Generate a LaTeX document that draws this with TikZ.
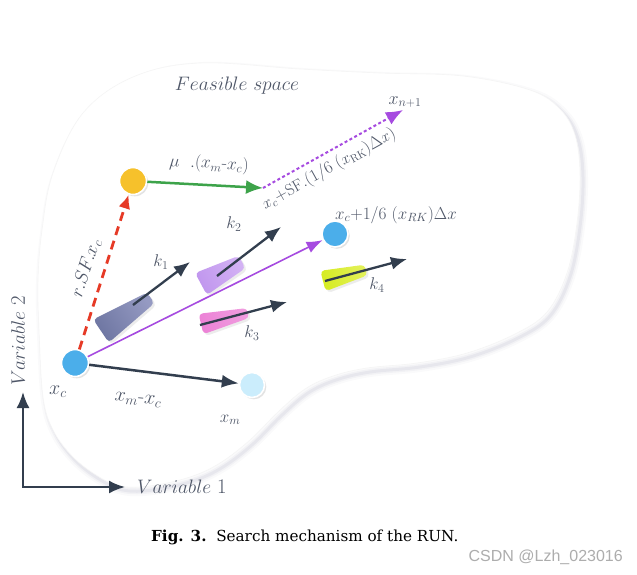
\documentclass[tikz,border=0pt]{standalone}
\usepackage{fontspec}
\DeclareFontShape{OML}{cmm}{m}{it}{<-6>cmmi5 <6-7>cmmi6 <7-8>cmmi7 <8-9>cmmi8 <9-10>cmmi9 <10-12>cmmi10 <12->cmmi12}{}
\newfontfamily\capfont{DejaVu Serif}
\newfontfamily\wmfont{Liberation Sans}
\usetikzlibrary{arrows.meta,shadows,calc}
\definecolor{txt}{HTML}{4F5768}
\definecolor{darkarr}{HTML}{323E4E}
\definecolor{grn}{HTML}{3DA34A}
\definecolor{redd}{HTML}{E63A26}
\definecolor{purp}{HTML}{A64BE0}
\definecolor{yel}{HTML}{F6C12B}
\definecolor{bluec}{HTML}{4BAEEA}
\definecolor{lblue}{HTML}{CBEDFC}
\definecolor{konea}{HTML}{6E76A2}
\definecolor{koneb}{HTML}{959AC2}
\definecolor{ktwoa}{HTML}{C096EE}
\definecolor{ktwob}{HTML}{D3B2F4}
\definecolor{kthreea}{HTML}{EC82D6}
\definecolor{kthreeb}{HTML}{F09CDF}
\definecolor{kfoura}{HTML}{D6EC22}
\definecolor{kfourb}{HTML}{E3F15A}
\newcommand{\hy}{\mbox{-}}
\newcommand{\fsz}[1]{\fontsize{#1}{#1}\selectfont}
\tikzset{
  dotnode/.style={circle, minimum size=26pt, inner sep=0pt, draw=white, line width=1.6pt,
    drop shadow={opacity=0.22, shadow xshift=1.8pt, shadow yshift=-1.8pt}},
  lbl/.style={text=txt, inner sep=0pt, font=\fsz{17}},
  biglbl/.style={text=txt, inner sep=0pt, font=\fsz{19.5}},
  wedge/.style={rounded corners=4pt, drop shadow={opacity=0.15, shadow xshift=2pt, shadow yshift=-2pt}},
  karrow/.style={darkarr, line width=2.3pt, -{Latex[length=16pt,width=13pt]}},
}
\begin{document}
\begin{tikzpicture}[x=1pt,y=-1pt]
\useasboundingbox (0,0) rectangle (637,574);
\fill[white] (0,0) rectangle (637,574);
% feasible space blob with soft shadow
\foreach \w/\o in {10/0.02,6/0.03,3/0.045}{
  \draw[line width=\w pt, draw=black!70!blue, opacity=\o, xshift=3pt, yshift=-4pt]
    plot[smooth cycle, tension=0.6] coordinates {(200,63) (300,69) (380,73) (463,76) (530,90) (560,109) (575,135) (580,173) (577,223) (567,273) (547,312) (515,334) (467,353) (417,363) (367,368) (333,376) (305,389) (278,412) (250,440) (220,463) (190,477) (150,486) (120,486) (96,475) (72,456) (53,430) (43,397) (39,330) (38,280) (42,230) (53,173) (83,113) (133,77)};
}
\fill[white] plot[smooth cycle, tension=0.6] coordinates {(200,63) (300,69) (380,73) (463,76) (530,90) (560,109) (575,135) (580,173) (577,223) (567,273) (547,312) (515,334) (467,353) (417,363) (367,368) (333,376) (305,389) (278,412) (250,440) (220,463) (190,477) (150,486) (120,486) (96,475) (72,456) (53,430) (43,397) (39,330) (38,280) (42,230) (53,173) (83,113) (133,77)};
\draw[black!4, line width=0.6pt] plot[smooth cycle, tension=0.6] coordinates {(200,63) (300,69) (380,73) (463,76) (530,90) (560,109) (575,135) (580,173) (577,223) (567,273) (547,312) (515,334) (467,353) (417,363) (367,368) (333,376) (305,389) (278,412) (250,440) (220,463) (190,477) (150,486) (120,486) (96,475) (72,456) (53,430) (43,397) (39,330) (38,280) (42,230) (53,173) (83,113) (133,77)};

% axes
\coordinate (O) at (23,487);
\coordinate (Vy) at (23,392);
\coordinate (Vx) at (125,487);
\draw[darkarr, line width=2.3pt, line join=miter, {Latex[length=16pt,width=13pt]}-{Latex[length=16pt,width=13pt]}] (Vy) -- (O) -- (Vx);
\node[biglbl, anchor=west] (v1) at (137,487) {$Variable\ 1$};
\node[biglbl, rotate=90] (v2) at (18,341) {$Variable\ 2$};
\node[biglbl] (fs) at (237,86) {$Feasible\ space$};

% wedges
\shade[wedge, left color=konea, right color=koneb, shading angle=124] (93.2,319.4) -- (147.1,292.5) -- (154.3,303.3) -- (108.8,342.6) -- cycle;
\shade[wedge, left color=ktwoa, right color=ktwob, shading angle=118] (195.1,273) -- (238.7,255.8) -- (245.3,268.2) -- (206.9,295) -- cycle;
\shade[wedge, left color=kthreea, right color=kthreeb, shading angle=103] (198.6,313.8) -- (246.9,308.1) -- (249.1,317.9) -- (203.4,334.2) -- cycle;
\shade[wedge, left color=kfoura, right color=kfourb, shading angle=104] (320.4,270.8) -- (364.6,264.7) -- (367.4,275.3) -- (325.6,291.2) -- cycle;

% points
\node[dotnode, fill=bluec, minimum size=27pt] (xc) at (75,363) {};
\node[dotnode, fill=lblue, minimum size=25pt] (xm) at (252,385) {};
\node[dotnode, fill=yel, minimum size=27pt] (ys) at (133,181) {};
\node[dotnode, fill=bluec, minimum size=26pt] (xrk) at (335,234) {};
\coordinate (gend) at (263,188);
\coordinate (xn) at (403,110);

% connectors
\draw[redd, line width=2.8pt, dash pattern=on 9pt off 6pt, -{Latex[length=14pt,width=12pt]}] (xc) -- (ys);
\draw[grn, line width=2.5pt, -{Latex[length=17pt,width=14pt]}] (ys) -- (gend);
\draw[purp, line width=2pt, dash pattern=on 3pt off 2.5pt, -{Latex[length=17pt,width=14pt]}] (gend) -- (xn);
\draw[purp, line width=1.6pt, -{Latex[length=16pt,width=12pt]}] (xc) -- (xrk);
\draw[darkarr, line width=2.5pt, -{Latex[length=17pt,width=13pt]}] (xc) -- (xm);

% k arrows
\coordinate (k1s) at (133,305); \coordinate (k1e) at (190,262);
\coordinate (k2s) at (217,276); \coordinate (k2e) at (281,227);
\coordinate (k3s) at (200,325); \coordinate (k3e) at (287,302);
\coordinate (k4s) at (325,281); \coordinate (k4e) at (407,259);
\draw[karrow] (k1s) -- (k1e);
\draw[karrow] (k2s) -- (k2e);
\draw[karrow] (k3s) -- (k3e);
\draw[karrow] (k4s) -- (k4e);

% labels
\node[lbl, font=\fsz{20}] (lxc) at (58,392) {$x_c$};
\node[lbl] (lxm) at (230,420) {$x_m$};
\node[lbl, font=\fsz{20}, rotate=-5] (ldiff) at (138,400) {$x_m\hy x_c$};
\node[lbl, font=\fsz{17.5}, rotate=-3] (lmu) at (209,164) {$\mu\ \ .(x_m\hy x_c)$};
\node[lbl, font=\fsz{16}, rotate=29] (lsf) at (329,169) {$x_c{+}\mathrm{SF}.(1/6\ (x_{\mathrm{RK}})\Delta x)$};
\node[lbl, font=\fsz{19}, rotate=72] (lr) at (86,268) {$r.SF.x_c$};
\node[lbl, font=\fsz{17}] (lrk) at (396,215) {$x_c{+}1/6\ (x_{RK})\Delta x$};
\node[lbl, font=\fsz{18}] (lxn) at (405,102) {$x_{n+1}$};
\node[lbl] (lk1) at (161,262) {$k_1$};
\node[lbl] (lk2) at (234,224) {$k_2$};
\node[lbl] (lk3) at (252,333) {$k_3$};
\node[lbl] (lk4) at (377,285) {$k_4$};

% caption
\node[anchor=west, inner sep=0pt, font=\capfont\fontsize{15.2}{17}\selectfont] (cap) at (151,537) {\textbf{Fig. 3.}\ \ Search mechanism of the RUN.};
\node[anchor=east, inner sep=0pt, text=black!32, font=\wmfont\fontsize{16}{18}\selectfont] (wm) at (623,557) {CSDN @Lzh\_023016};
\end{tikzpicture}
\end{document}
